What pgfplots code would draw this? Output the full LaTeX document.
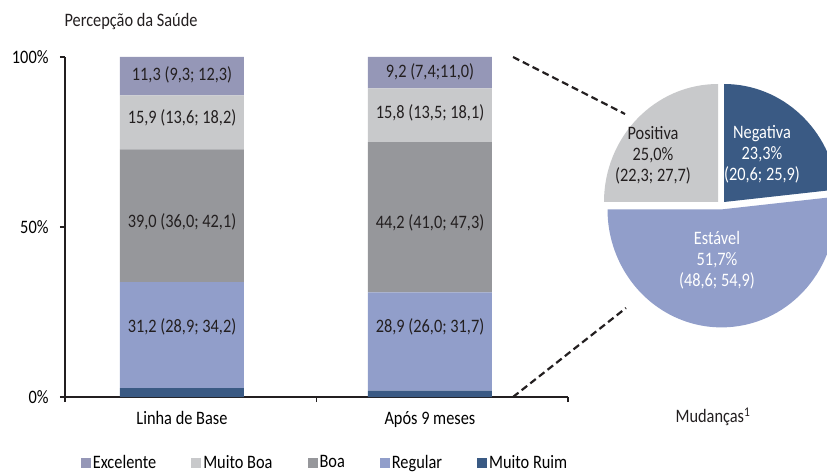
\documentclass[border=0pt]{standalone}
\usepackage{pgfplots}
\pgfplotsset{compat=1.18}
\usepackage{fontspec}
\setmainfont{Carlito}[FakeStretch=0.86]

\definecolor{cExc}{HTML}{9597B7}
\definecolor{cMB}{HTML}{C8C9CB}
\definecolor{cBoa}{HTML}{96979B}
\definecolor{cReg}{HTML}{919ECA}
\definecolor{cMR}{HTML}{3A5A84}
\definecolor{txt}{HTML}{231F20}

\begin{document}
\fontsize{19}{21}\selectfont
\begin{tikzpicture}
\path[use as bounding box] (0,0) rectangle (827pt,-473pt);

% stacked bars: Linha de Base at 0.465, Apos 9 meses at 1.451
\begin{axis}[
  at={(65pt,-397pt)}, anchor=south west,
  scale only axis, width=503pt, height=340pt,
  xmin=0, xmax=2, ymin=0, ymax=100,
  axis lines*=left,
  axis line style={line width=1.8pt, txt},
  ybar stacked, bar width=124pt,
  legend image code/.code={\fill[#1] (0pt,-5pt) rectangle (10pt,5pt);},
  xtick={0,1,2}, xticklabels={},
  extra x ticks={0.465,1.451},
  extra x tick labels={Linha de Base, Após 9 meses},
  extra x tick style={major tick length=0pt, xticklabel style={yshift=-8pt}},
  ytick={0,50,100}, yticklabels={0\%,50\%,100\%},
  yticklabel style={xshift=-5pt},
  tick align=outside, major tick length=5pt,
  tick style={line width=1.8pt, txt},
  /pgf/number format/assume math mode=true,
  reverse legend,
  legend columns=5,
  legend style={draw=none, fill=none, at={(0.517,-0.194)}, anchor=center,
    /tikz/every even column/.append style={column sep=33pt}},
]
\addplot[fill=cMR, draw=none] coordinates {(0.465,2.6) (1.451,1.9)};
\addlegendentry{Muito Ruim}
\addplot[fill=cReg, draw=none] coordinates {(0.465,31.2) (1.451,28.9)};
\addlegendentry{Regular}
\addplot[fill=cBoa, draw=none] coordinates {(0.465,39.0) (1.451,44.2)};
\addlegendentry{Boa}
\addplot[fill=cMB, draw=none] coordinates {(0.465,15.9) (1.451,15.8)};
\addlegendentry{Muito Boa}
\addplot[fill=cExc, draw=none] coordinates {(0.465,11.3) (1.451,9.2)};
\addlegendentry{Excelente}
\end{axis}

% labels and pie of changes, in page units (1 unit = 1pt, y up)
\begin{axis}[
  at={(0pt,-473pt)}, anchor=south west,
  scale only axis, width=827pt, height=473pt,
  xmin=0, xmax=827, ymin=0, ymax=473,
  hide axis, clip=false,
]
\node[txt] at (axis cs:182,398) {11,3 (9,3; 12,3)};
\node[txt] at (axis cs:182,355) {15,9 (13,6; 18,2)};
\node[txt] at (axis cs:182,251) {39,0 (36,0; 42,1)};
\node[txt] at (axis cs:182,146) {31,2 (28,9; 34,2)};
\node[txt] at (axis cs:430,401) {9,2 (7,4;11,0)};
\node[txt] at (axis cs:430,360) {15,8 (13,5; 18,1)};
\node[txt] at (axis cs:430,250) {44,2 (41,0; 47,3)};
\node[txt] at (axis cs:430,146) {28,9 (26,0; 31,7)};

\pgfmathsetmacro{\aNeg}{90-3.6*23.3}
\fill[cMB] (axis cs:718,271) -- ++(0pt,118pt)
  arc[start angle=90, end angle=180, x radius=114pt, y radius=118pt] -- cycle;
\fill[cMR] (axis cs:724,271) -- ++(0pt,118pt)
  arc[start angle=90, end angle=\aNeg, x radius=114pt, y radius=118pt] -- cycle;
\fill[cReg] (axis cs:721.5,263.6) -- ++(\aNeg:114pt and 118pt)
  arc[start angle=\aNeg, end angle=-180, x radius=114pt, y radius=118pt] -- cycle;

\node[txt, align=center] at (axis cs:653,318) {Positiva\\25,0\%\\(22,3; 27,7)};
\node[white, align=center] at (axis cs:762,319) {Negativa\\23,3\%\\(20,6; 25,9)};
\node[white, align=center] at (axis cs:717,213) {Estável\\51,7\%\\(48,6; 54,9)};

\draw[txt, line width=2.2pt, dash pattern=on 7pt off 4pt] (axis cs:513,416) -- (axis cs:625,359);
\draw[txt, line width=2.2pt, dash pattern=on 7pt off 4pt] (axis cs:513,76) -- (axis cs:626,165);

\node[txt, anchor=west] at (axis cs:58,451) {Percepção da Saúde};
\node[txt] at (axis cs:713,56) {Mudanças\textsuperscript{1}};
\end{axis}
\end{tikzpicture}
\end{document}
